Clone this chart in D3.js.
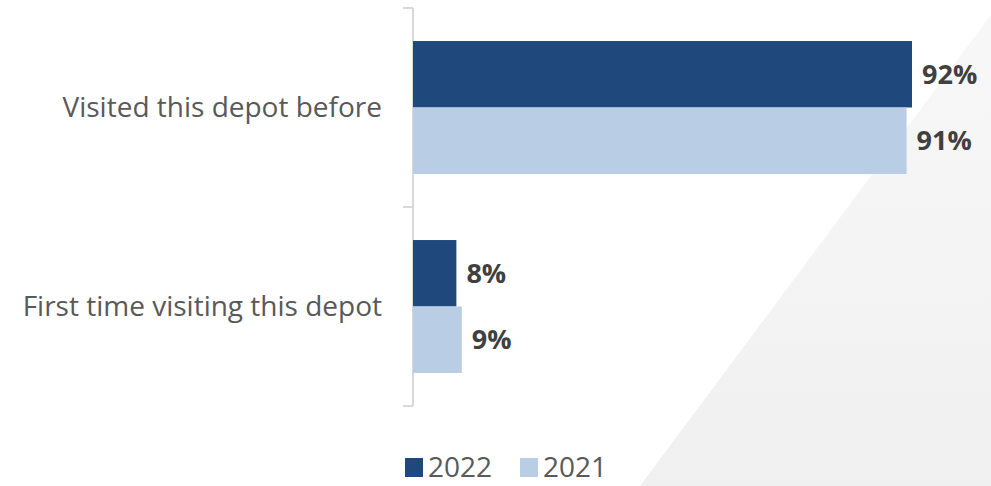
<!DOCTYPE html>
<html>
<head>
<meta charset="utf-8">
<script src="https://cdn.jsdelivr.net/npm/d3@7"></script>
<style>
  html, body { margin: 0; padding: 0; background: #ffffff; }
  svg { display: block; }
</style>
</head>
<body>
<svg id="chart" width="991" height="486"></svg>
<script>
// Depot visit history, share of respondents by survey year
const categories = ["Visited this depot before", "First time visiting this depot"];
const seriesNames = ["2022", "2021"];
const values2022 = [92, 8];
const values2021 = [91, 9];
const seriesColors = ["#1f497d", "#b9cde5"];

const W = 991, H = 486;
const svg = d3.select("#chart");
const font = "'Open Sans', 'Noto Sans', sans-serif";

// soft grey diagonal panel in the lower right
const defs = svg.append("defs");
const grad = defs.append("linearGradient").attr("id", "panel")
  .attr("x1", 0).attr("y1", 0).attr("x2", 0).attr("y2", 1);
grad.append("stop").attr("offset", 0).attr("stop-color", "#f8f8f8");
grad.append("stop").attr("offset", 1).attr("stop-color", "#f0f0f0");
svg.append("path")
  .attr("d", `M640,${H} L1002,0 L${W},0 L${W},${H} Z`)
  .attr("fill", "url(#panel)");

const plot = { left: 413, top: 8, bottom: 406 };

const x = d3.scaleLinear().domain([0, 100]).range([plot.left, plot.left + 542.4]);
const y = d3.scaleBand().domain(categories)
  .range([plot.top, plot.bottom]).paddingInner(0.332).paddingOuter(0.166);
const ySub = d3.scaleBand().domain(seriesNames).range([0, y.bandwidth()]);

const rows = categories.map((c, i) => ({
  category: c,
  items: [
    { series: "2022", value: values2022[i] },
    { series: "2021", value: values2021[i] }
  ]
}));

// category axis with outward boundary ticks
const axisG = svg.append("g");
axisG.append("line")
  .attr("x1", plot.left).attr("x2", plot.left)
  .attr("y1", plot.top).attr("y2", plot.bottom)
  .attr("stroke", "#d9d9d9").attr("stroke-width", 2);
const bounds = [plot.top].concat(categories.map(c => y(c) + y.bandwidth() + y.step() * 0.166));
axisG.selectAll("line.tick").data(bounds).join("line")
  .attr("class", "tick")
  .attr("x1", plot.left - 10).attr("x2", plot.left)
  .attr("y1", d => d).attr("y2", d => d)
  .attr("stroke", "#d9d9d9").attr("stroke-width", 2);

axisG.selectAll("text.cat").data(categories).join("text")
  .attr("class", "cat")
  .attr("x", 382)
  .attr("y", d => y(d) + y.bandwidth() / 2)
  .attr("dy", "0.35em")
  .attr("text-anchor", "end")
  .attr("fill", "#595959")
  .attr("font-family", font)
  .attr("font-size", 28)
  .text(d => d);

const groups = svg.selectAll("g.row").data(rows).join("g")
  .attr("class", "row")
  .attr("transform", d => `translate(0,${y(d.category)})`);

groups.selectAll("rect").data(d => d.items).join("rect")
  .attr("x", x(0))
  .attr("y", d => ySub(d.series))
  .attr("width", d => x(d.value) - x(0))
  .attr("height", ySub.bandwidth())
  .attr("fill", d => seriesColors[seriesNames.indexOf(d.series)]);

groups.selectAll("text").data(d => d.items).join("text")
  .attr("x", d => x(d.value) + 10)
  .attr("y", d => ySub(d.series) + ySub.bandwidth() / 2)
  .attr("dy", "0.35em")
  .attr("fill", "#404040")
  .attr("font-family", font)
  .attr("font-weight", "bold")
  .attr("font-size", 27)
  .text(d => d.value + "%");

// legend (text baseline at y = 0 of the group)
const legend = svg.append("g").attr("transform", "translate(405,477)");
const legendX = [0, 115];
seriesNames.forEach((s, i) => {
  const g = legend.append("g").attr("transform", `translate(${legendX[i]},0)`);
  g.append("rect").attr("x", 0).attr("y", -19).attr("width", 18).attr("height", 19)
    .attr("fill", seriesColors[i]);
  g.append("text").attr("x", 23).attr("y", 0)
    .attr("fill", "#595959").attr("font-family", font).attr("font-size", 28)
    .text(s);
});
</script>
</body>
</html>
